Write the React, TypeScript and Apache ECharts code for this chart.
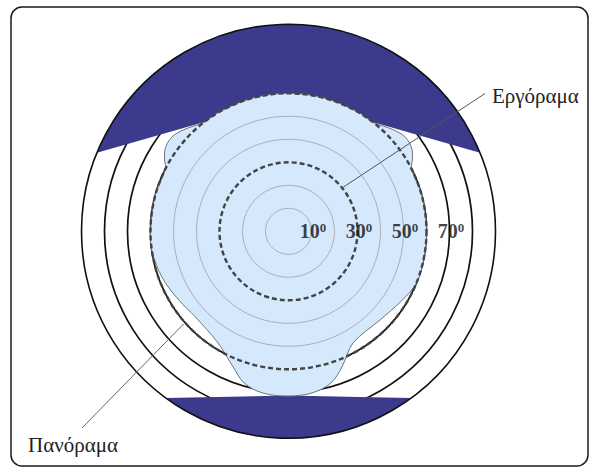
import React, { useEffect, useRef } from "react";
import * as echarts from "echarts";

// ---- data (degrees of visual field) ----
const GRAY_RINGS = [[10, 0], [20, 0], [40, 0], [50, 0]];
const BASE_RINGS = [[60, 0], [70, 0], [80, 0]];
const OUTER_RING = [[90, 0]];
const DASHED_RINGS = [[30, 0], [60, 0]]; // Εργόραμα (30°), Πανόραμα (60°)
const DEGREE_TICKS = [10, 30, 50, 70];

// visual field outline: angle (0 = top, clockwise) and radius in degrees
const FIELD_ANGLES = [
  0, 15, 30, 38, 42, 46, 51, 56, 60, 63, 75, 90, 102, 112, 122, 134, 150,
  158.5, 164.4, 171.7, 180, 189, 196.3, 202.2, 212.3, 227.3, 238, 250, 262,
  270, 285, 297, 300, 304, 309, 314, 318, 322, 330, 345,
];
const FIELD_RADII = [
  60, 60, 60, 60, 61.6, 63.5, 65.2, 64.6, 62.2, 60, 60, 60, 60, 60, 57.6, 55.4,
  56.1, 63.4, 68.5, 71, 71.6, 71.2, 68.7, 63.7, 57.4, 55, 56.3, 58.5, 60, 60,
  60, 60, 62.2, 64.6, 65.2, 63.5, 61.6, 60, 60, 60,
];

// occluded zones (caps): inner edge points [radius, angle]
const TOP_CAP_EDGE = [[90, -67.7], [58, 0], [90, 67.7]];
const BOTTOM_CAP_EDGE = [[90, 143.6], [76.3, 160.5], [71.4, 180], [76.3, 199.5], [90, 216.4]];
const CAPS = [TOP_CAP_EDGE, BOTTOM_CAP_EDGE];

const ERGORAMA_LABEL = "Εργόραμα";
const PANORAMA_LABEL = "Πανόραμα";

const norm = (a: number) => ((a % 360) + 360) % 360;

function ringSeries(data: number[][], style: any, z: number) {
  return {
    type: "custom",
    coordinateSystem: "polar",
    z,
    silent: true,
    data,
    renderItem: (params: any, api: any) => {
      const c = api.coord([0, 0]);
      const p = api.coord([api.value(0), 90]);
      const r = Math.hypot(p[0] - c[0], p[1] - c[1]);
      return {
        type: "circle",
        shape: { cx: c[0], cy: c[1], r },
        style: { fill: "none", ...style },
      };
    },
  };
}

export default function App() {
  const ref = useRef<HTMLDivElement>(null);

  useEffect(() => {
    if (!ref.current) return;
    const chart = echarts.init(ref.current, undefined, { renderer: "svg" });

    const option: any = {
      animation: false,
      backgroundColor: "#ffffff",
      polar: { center: [288.5, 231.3], radius: 207 },
      angleAxis: {
        type: "value",
        min: 0,
        max: 360,
        startAngle: 90,
        clockwise: true,
        show: false,
      },
      radiusAxis: { type: "value", min: 0, max: 90, show: false },
      series: [
        ringSeries(BASE_RINGS, { stroke: "#111111", lineWidth: 1.7 }, 1),
        {
          type: "custom",
          coordinateSystem: "polar",
          z: 2,
          silent: true,
          data: CAPS.map((_, i) => [i, 0]),
          renderItem: (params: any, api: any) => {
            const edge = CAPS[params.dataIndex];
            const pts: number[][] = edge.map((d) => api.coord([d[0], norm(d[1])]));
            const from = edge[edge.length - 1][1];
            const to = edge[0][1];
            for (let a = from; a >= to; a -= 1) {
              pts.push(api.coord([90, norm(a)]));
            }
            return {
              type: "polygon",
              shape: { points: pts },
              style: { fill: "#3b3a8d", stroke: "none" },
            };
          },
        },
        ringSeries(OUTER_RING, { stroke: "#111111", lineWidth: 1.6 }, 3),
        {
          type: "custom",
          coordinateSystem: "polar",
          z: 4,
          silent: true,
          data: FIELD_ANGLES.map((a, i) => [FIELD_RADII[i], a]),
          renderItem: (params: any, api: any) => {
            if (params.dataIndex !== 0) return null;
            const pts = FIELD_ANGLES.map((a, i) => api.coord([FIELD_RADII[i], a]));
            return {
              type: "polygon",
              shape: { points: pts, smooth: 0.35 },
              style: { fill: "#d6e8fc", stroke: "#6f7378", lineWidth: 1 },
            };
          },
        },
        ringSeries(GRAY_RINGS, { stroke: "#a7b0ba", lineWidth: 1 }, 5),
        ringSeries(
          DASHED_RINGS,
          { stroke: "#444444", lineWidth: 2.4, lineDash: [5, 3] },
          6
        ),
        {
          type: "scatter",
          coordinateSystem: "polar",
          z: 7,
          silent: true,
          symbolSize: 0,
          data: DEGREE_TICKS.map((v) => [v, 90]),
          label: {
            show: true,
            position: "inside",
            offset: [1.5, 0],
            formatter: (p: any) => `{n|${p.value[0]}}{s|0}`,
            rich: {
              n: {
                fontFamily: "Liberation Serif",
                fontWeight: "bold",
                fontSize: 20,
                lineHeight: 20,
                color: "#111111",
              },
              s: {
                fontFamily: "Liberation Serif",
                fontWeight: "bold",
                fontSize: 13,
                verticalAlign: "top",
                color: "#111111",
              },
            },
          },
        },
      ],
      graphic: [
        {
          type: "rect",
          z: 10,
          shape: { x: 11, y: 7, width: 577, height: 459, r: 11 },
          style: { fill: "none", stroke: "#1a1a1a", lineWidth: 1.5 },
        },
        {
          type: "line",
          z: 10,
          shape: { x1: 342, y1: 188, x2: 485, y2: 93.5 },
          style: { stroke: "#555555", lineWidth: 1 },
        },
        {
          type: "line",
          z: 10,
          shape: { x1: 184, y1: 323.5, x2: 82, y2: 428 },
          style: { stroke: "#666666", lineWidth: 1 },
        },
        {
          type: "text",
          z: 10,
          x: 492,
          y: 95.6,
          style: {
            text: ERGORAMA_LABEL,
            font: "21px 'Liberation Serif'",
            fill: "#222222",
            verticalAlign: "middle",
          },
        },
        {
          type: "text",
          z: 10,
          x: 28,
          y: 444.6,
          style: {
            text: PANORAMA_LABEL,
            font: "21px 'Liberation Serif'",
            fill: "#222222",
            verticalAlign: "middle",
          },
        },
      ],
    };

    chart.setOption(option);
    return () => chart.dispose();
  }, []);

  return (
    <div
      ref={ref}
      style={{ position: "absolute", left: 0, top: 0, width: 590, height: 468 }}
    />
  );
}
